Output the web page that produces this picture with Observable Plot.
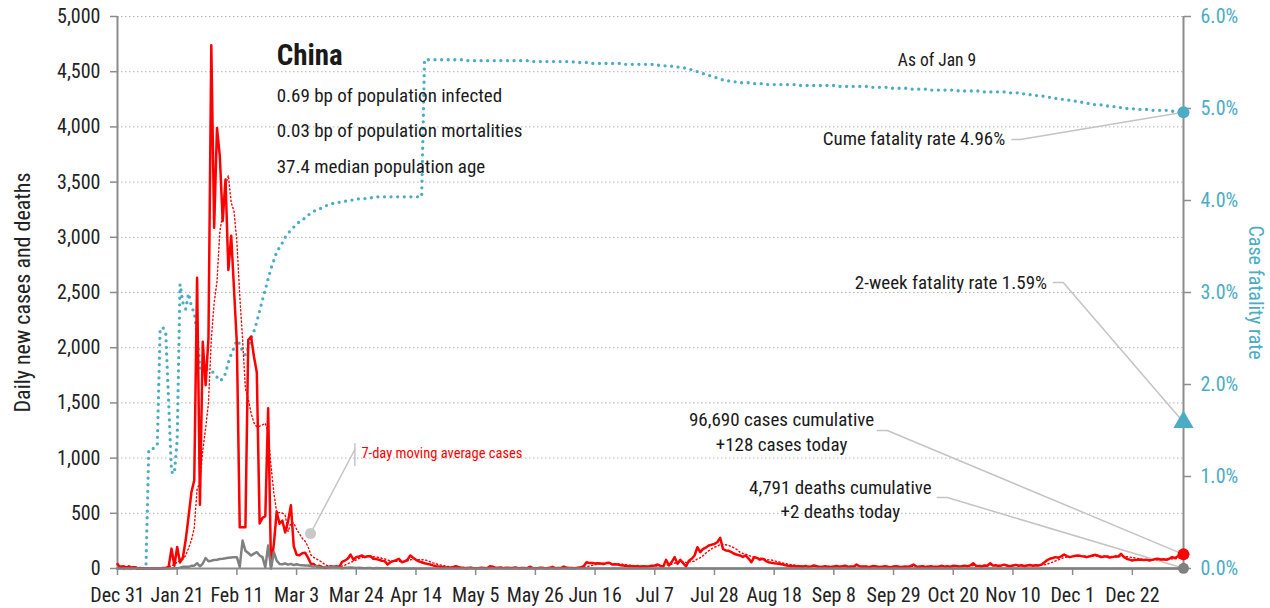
<!DOCTYPE html>
<html><head><meta charset="utf-8">
<script src="https://cdn.jsdelivr.net/npm/d3@7"></script>
<script src="https://cdn.jsdelivr.net/npm/@observablehq/plot@0.6"></script>
<style>
html,body{margin:0;padding:0;background:#fff;}
#chart svg{display:block}
</style></head><body><div id="chart"></div>
<script>
// ---------- data ----------
const startDate = "2019-12-31";
const endDate = "2021-01-09";
const xTickDates = ["2019-12-31","2020-01-21","2020-02-11","2020-03-03","2020-03-24","2020-04-14","2020-05-05","2020-05-26","2020-06-16","2020-07-07","2020-07-28","2020-08-18","2020-09-08","2020-09-29","2020-10-20","2020-11-10","2020-12-01","2020-12-22"];
const yTicksLeft = [0,500,1000,1500,2000,2500,3000,3500,4000,4500,5000];
const yTicksRightPct = [0,1,2,3,4,5,6];

const dailyCases = [
40,5,20,8,20,5,12,0,3,0,0,0,0,0,0,0,4,4,17,
180,25,195,55,100,260,470,690,800,2633,578,2054,1661,2089,4739,3086,3991,3733,3147,3523,2704,3015,2525,2032,
373,373,373,2070,2100,1920,1777,408,458,473,1451,21,219,513,406,433,327,427,573,202,125,119,139,143,99,44,40,19,24,15,8,11,20,16,21,13,
60,72,88,127,79,103,109,118,103,112,112,88,85,79,70,67,36,57,67,75,88,57,65,79,118,97,79,65,57,48,42,36,28,21,18,16,12,
10,6,12,21,11,6,5,3,8,4,3,2,6,4,2,20,17,5,7,8,3,6,5,4,10,3,5,4,2,16,5,3,4,8,4,2,6,15,3,5,4,18,6,4,5,3,8,11,
20,57,49,50,45,48,45,40,49,52,36,38,36,30,27,22,21,
20,18,22,15,20,18,21,25,28,36,24,18,79,27,60,103,42,79,48,18,70,88,118,193,148,178,190,208,215,223,238,278,178,163,160,148,133,125,118,105,118,90,57,103,95,80,88,70,57,52,48,45,40,36,30,25,21,
22,18,20,16,24,15,19,27,20,14,
17,21,15,13,18,22,16,20,25,14,
19,17,36,20,15,18,13,16,22,19,
14,17,20,15,12,18,21,16,14,19,
15,22,36,18,14,20,16,13,21,17,
15,19,24,17,20,14,25,22,18,21,
26,20,28,48,24,22,19,27,25,48,
26,30,22,28,35,24,20,27,33,25,
29,22,27,31,25,30,27,
35,55,75,88,95,103,98,110,127,112,103,110,115,118,112,108,103,110,118,124,115,103,108,109,100,103,110,108,133,105,88,80,73,78,79,82,76,80,73,78,85,88,82,84,79,88,103,95,110,118,128
];

const dailyDeaths = [
0,0,0,0,0,0,0,0,0,0,0,1,0,0,0,0,1,0,0,1,2,3,
8,16,15,15,24,26,48,20,45,95,66,70,78,80,86,88,92,97,100,103,
103,15,254,160,140,118,135,148,118,103,
10,208,0,148,72,40,38,45,35,42,
31,38,31,30,28,27,22,17,22,11,
7,13,10,14,13,11,8,
3,7,6,9,7,4,6,5,3,5,4,1,4,2,3,3,2,1,0,1,1,1,
1,0,1,0,0,0,0,0,1,0,0,0,0,0,0,0,0,0,0,0,0,0,0,0,0,
0,0,0,0,0,0,0,0,0,0,0,0,0,0,0,0,0,0,0,0,0,0,0,0,0,
0,0,0,0,0,0,0,0,0,0,0,0,0,0,0,0,0,0,0,0,0,0,0,0,0,
0,0,0,0,0,0,0,0,0,0,0,0,0,0,0,0,0,0,0,0,0,0,0,0,0,
0,0,0,0,0,0,0,0,0,0,1,0,0,0,0,0,0,0,0,0,0,0,0,0,0,
0,0,0,0,0,0,0,0,0,0,0,0,0,0,0,0,0,0,0,0,0,0,0,0,0,
0,0,0,0,0,0,0,0,0,0,0,0,0,0,0,0,0,0,0,0,0,0,0,0,0,
0,0,0,0,0,0,0,0,0,0,0,0,0,0,0,0,0,0,0,0,0,0,0,0,0,
0,0,0,0,0,0,0,0,0,0,0,0,0,0,0,0,0,0,0,0,0,0,0,0,0,
0,0,0,0,0,0,0,0,0,0,0,0,0,0,0,0,0,0,0,0,0,0,0,0,0,
0,0,0,0,0,0,0,0,0,0,0,0,0,0,0,0,0,0,0,0,0,0,0,1,2
];

const cfrPct = [
0,0,0,0,0,0,0,0,0,0,0,
1.29,1.30,1.31,1.34,2.60,2.62,2.55,1.80,1.05,1.03,
1.40,3.09,2.89,2.82,2.99,2.85,2.78,2.55,2.18,2.17,2.17,2.16,2.15,2.12,2.08,2.04,2.06,2.12,2.24,2.33,
2.40,2.48,2.44,2.36,2.32,2.40,2.50,2.58,2.68,2.80,2.92,3.03,3.15,3.26,3.35,3.44,3.49,3.54,3.60,3.64,
3.68,3.71,3.74,3.77,3.79,3.81,3.84,3.86,3.88,3.90,3.91,3.92,3.94,3.95,3.96,3.97,3.98,3.98,3.99,3.99,
4.00,4.00,4.01,4.01,4.02,4.02,4.02,4.03,4.03,4.03,4.04,4.04,4.04,4.04,4.04,4.04,4.04,4.04,4.04,4.04,4.04,4.04,4.04,4.04,4.04,4.04,4.04,
5.53,5.53,5.53,5.53,5.53,5.53,5.53,5.53,5.53,5.53,5.53,5.53,5.53,5.53,5.53,5.52,5.52,5.52,5.52,5.52,5.52,5.52,5.52,
5.52,5.52,5.52,5.52,5.52,5.52,5.52,5.52,5.52,5.52,5.52,5.52,5.52,5.52,5.52,5.51,5.51,5.51,5.51,5.51,5.51,5.51,5.51,5.51,5.51,5.51,5.51,5.51,5.51,5.51,
5.50,5.50,5.50,5.50,5.50,5.49,5.49,5.49,5.49,5.49,5.49,5.49,5.49,5.49,5.49,
5.49,5.49,5.48,5.48,5.48,5.48,5.48,5.48,5.48,5.48,5.48,5.48,5.48,5.47,5.47,5.47,5.47,5.46,5.46,5.46,5.45,5.45,5.45,5.44,
5.44,5.43,5.42,5.41,5.40,5.39,5.38,5.37,5.36,5.35,5.34,5.33,5.32,5.31,5.31,5.30,5.30,5.29,5.29,5.28,5.28,
5.28,5.28,5.27,5.27,5.27,5.27,5.27,5.26,5.26,5.26,5.26,5.26,5.26,5.26,5.26,5.26,5.26,5.26,5.25,5.25,5.25,5.25,5.25,5.25,5.25,5.25,5.25,5.25,5.25,5.25,
5.25,5.25,5.25,5.24,5.24,5.24,5.24,5.24,5.24,5.24,5.24,5.24,5.24,5.24,5.23,5.23,5.23,5.23,5.23,5.23,5.23,5.22,5.22,5.22,5.22,5.22,5.22,5.22,5.21,5.21,5.21,5.21,5.21,5.21,5.21,5.20,5.20,5.20,5.20,5.20,
5.20,5.20,5.20,5.20,5.20,5.19,5.19,5.19,5.19,5.19,5.19,5.19,5.19,5.19,5.18,5.18,5.18,5.18,5.18,5.18,5.18,5.18,5.18,5.17,5.17,5.17,5.17,5.16,5.16,5.16,5.15,5.15,5.14,5.14,5.14,
5.13,5.13,5.12,5.12,5.11,5.11,5.10,5.10,5.09,5.09,5.08,5.08,5.07,5.07,5.06,5.06,5.05,5.05,5.04,5.04,5.04,5.03,5.03,5.02,5.02,5.02,5.01,5.01,5.01,5.00,5.00,5.00,4.99,4.99,4.99,4.99,4.99,4.98,4.98,4.98,4.98,4.98,4.98,4.98,4.97,4.97,4.97,4.97,4.96,4.96
];

const cumeCfrPct = 4.96;
const twoWeekCfrPct = 1.59;
const casesToday = 128;
const deathsToday = 2;
const titleText = "China";
const statLines = ["0.69 bp of population infected","0.03 bp of population mortalities","37.4 median population age"];
const asOfText = "As of Jan 9";
const cumeText = "Cume fatality rate 4.96%";
const twoWeekText = "2-week fatality rate 1.59%";
const casesLines = ["96,690 cases cumulative","+128 cases today"];
const deathsLines = ["4,791 deaths cumulative","+2 deaths today"];
const avgText = "7-day moving average cases";
const leftLabel = "Daily new cases and deaths";
const rightLabel = "Case fatality rate";

// ---------- build ----------
const t0 = new Date(startDate);
const tEnd = new Date(endDate);
const DAY = 864e5;
const at = d => new Date(t0.getTime() + d * DAY);
const K = 5000 / 6; // left-axis units per 1% of case fatality rate
const rows = dailyCases.map((c, i) => ({date: at(i), cases: c, deaths: dailyDeaths[i], cfr: cfrPct[i]}));

const teal = "#4bacc6";
const red = "#ff0000";
const gray = "#808080";
const axisGray = "#8c8c8c";
const leadGray = "#c4c4c4";
const ink = "#1a1a1a";
const FONT = "'Roboto Condensed', 'Liberation Sans Narrow', 'Arial Narrow', 'DejaVu Sans Condensed', sans-serif";

const leaders = [
  {id: "cume", pts: [[314.7, 3886], [317.6, 3886], [375, cumeCfrPct * K]]},
  {id: "two", pts: [[329.2, 2591], [332.7, 2591], [375, twoWeekCfrPct * K]]},
  {id: "cases", pts: [[267.3, 1250], [270.8, 1250], [375, casesToday]]},
  {id: "deaths", pts: [[288.4, 643], [291.9, 643], [375, deathsToday]]},
  {id: "avgtick", pts: [[83.5, 1129], [83.5, 933]]},
  {id: "avgdiag", pts: [[83.5, 1078], [67.9, 317]]}
];
const leaderPts = leaders.flatMap(l => l.pts.map(p => ({id: l.id, date: at(p[0]), v: p[1]})));

const startTexts = [
  {d: 56, v: 4284, t: statLines[0]},
  {d: 56, v: 3967, t: statLines[1]},
  {d: 56, v: 3641, t: statLines[2]}
];
const middleTexts = [
  {d: 233.6, v: 1350, t: casesLines[0]},
  {d: 233.6, v: 1123, t: casesLines[1]},
  {d: 254.3, v: 734, t: deathsLines[0]},
  {d: 254.3, v: 512, t: deathsLines[1]}
];
const endTexts = [
  {d: 312.3, v: 3895, t: cumeText},
  {d: 327, v: 2591, t: twoWeekText}
];

const last = rows[rows.length - 1];
const txt = (arr, anchor, extra = {}) => Plot.text(arr, {x: d => at(d.d), y: "v", text: "t", textAnchor: anchor, lineAnchor: "middle", fontSize: 19, fill: ink, ...extra});

const chart = Plot.plot({
  width: 1270,
  height: 608,
  marginLeft: 117,
  marginRight: 87,
  marginTop: 16,
  marginBottom: 40,
  x: {type: "utc", domain: [t0, tEnd]},
  y: {domain: [0, 5000]},
  style: {fontFamily: FONT, fontSize: "20px", color: ink, background: "#fff", overflow: "visible"},
  marks: [
    Plot.gridY(yTicksLeft, {stroke: "#b4b4b4", strokeOpacity: 1, strokeWidth: 1, strokeDasharray: "1.5,2.5"}),
    Plot.axisY(yTicksLeft, {anchor: "left", tickSize: 7, tickPadding: 10, tickFormat: d3.format(","), stroke: axisGray, fill: "#222", strokeWidth: 1.5, fontSize: 20, label: null}),
    Plot.axisY(yTicksRightPct.map(p => p * K), {anchor: "right", tickSize: 7, tickPadding: 10, tickFormat: v => (v / K).toFixed(1) + "%", stroke: axisGray, fill: teal, strokeWidth: 1.5, fontSize: 20, label: null}),
    Plot.axisX(xTickDates.map(s => new Date(s)), {tickSize: 7, tickPadding: 12, tickFormat: d3.utcFormat("%b %-d"), stroke: axisGray, fill: "#222", strokeWidth: 1.5, fontSize: 20, label: null}),
    Plot.ruleX([t0, tEnd], {stroke: axisGray, strokeWidth: 2}),
    Plot.ruleY([0], {stroke: axisGray, strokeWidth: 2}),
    Plot.lineY(rows, {x: "date", y: d => d.cfr * K, stroke: teal, strokeWidth: 3.3, strokeDasharray: "0 6.6", strokeLinecap: "round"}),
    Plot.line(leaderPts, {x: "date", y: "v", z: "id", stroke: leadGray, strokeWidth: 1.5}),
    Plot.dot([{date: at(67.9), v: 317}], {x: "date", y: "v", r: 5.5, fill: "#c8c8c8"}),
    Plot.lineY(rows, Plot.windowY({k: 7, anchor: "end", reduce: "mean"}, {x: "date", y: "cases", stroke: red, strokeWidth: 1.4, strokeDasharray: "1.2 2.6"})),
    Plot.lineY(rows, {x: "date", y: "cases", stroke: red, strokeWidth: 2.5, strokeLinejoin: "round"}),
    Plot.lineY(rows, {x: "date", y: "deaths", stroke: gray, strokeWidth: 2.5, strokeLinejoin: "round"}),
    Plot.dot([{date: last.date, v: cumeCfrPct * K}], {x: "date", y: "v", r: 6, fill: teal}),
    Plot.dot([{date: last.date, v: twoWeekCfrPct * K}], {x: "date", y: "v", r: 7.5, symbol: "triangle", fill: teal}),
    Plot.dot([{date: last.date, v: casesToday}], {x: "date", y: "v", r: 6, fill: red}),
    Plot.dot([{date: last.date, v: deathsToday}], {x: "date", y: "v", r: 5.5, fill: gray}),
    txt([{d: 56, v: 4647, t: titleText}], "start", {fontSize: 29, fontWeight: "bold"}),
    txt(startTexts, "start"),
    txt(middleTexts, "middle"),
    txt(endTexts, "end"),
    txt([{d: 288.3, v: 4601, t: asOfText}], "middle", {fontSize: 17.5}),
    txt([{d: 85.8, v: 1042, t: avgText}], "start", {fontSize: 14.5, fill: red}),
    Plot.text([leftLabel], {frameAnchor: "left", dx: -95, rotate: -90, textAnchor: "middle", fontSize: 22, fill: "#222"}),
    Plot.text([rightLabel], {frameAnchor: "right", dx: 72, rotate: 90, textAnchor: "middle", fontSize: 20, fill: teal})
  ]
});
document.getElementById("chart").appendChild(chart);
</script>
</body></html>
